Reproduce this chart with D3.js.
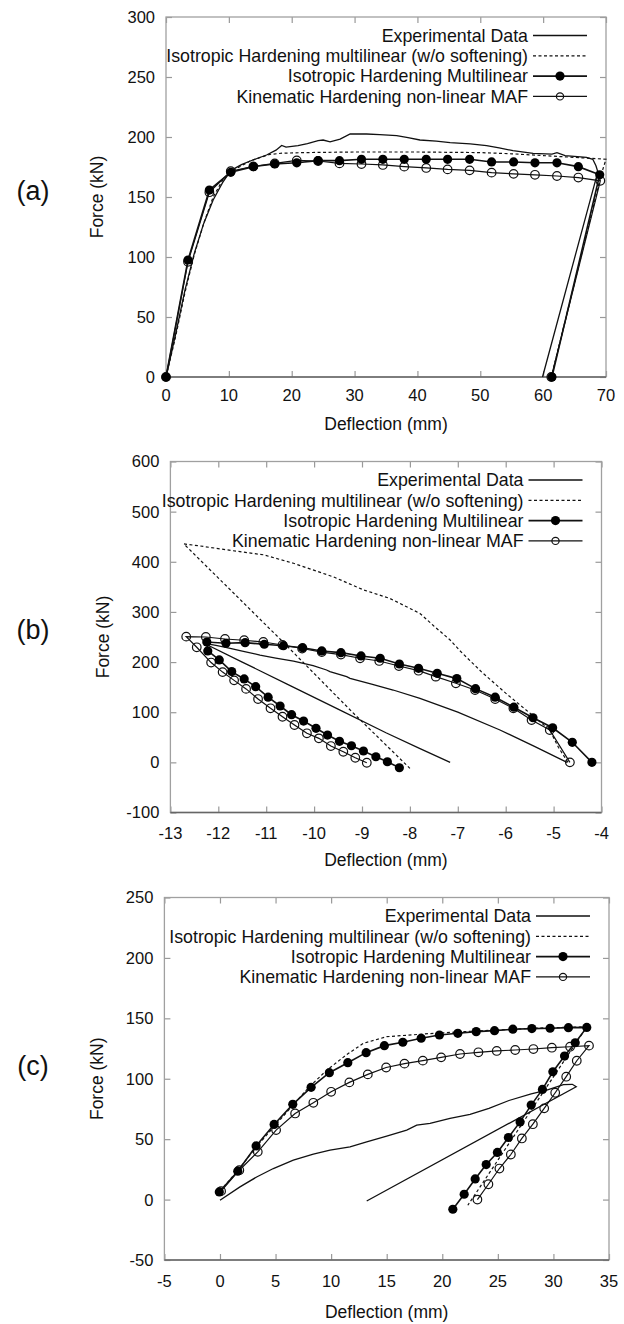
<!DOCTYPE html>
<html><head><meta charset="utf-8">
<script src="https://cdn.jsdelivr.net/npm/d3@7"></script>
<style>
html,body{margin:0;padding:0;background:#fff;}
svg{display:block;font-family:"Liberation Sans",Arial,sans-serif;}
</style></head>
<body><svg id="chart" width="624" height="1324"></svg>
<script>
// ---------- DATA ----------
const seriesNames = ["Experimental Data","Isotropic Hardening multilinear (w/o softening)","Isotropic Hardening Multilinear","Kinematic Hardening non-linear MAF"];

// Panel (a)
const aXTicks = [0,10,20,30,40,50,60,70];
const aYTicks = [0,50,100,150,200,250,300];
const aExp = [[0,0],[1.5,35],[3,72],[4.5,103],[6,128],[7.5,147.5],[9,162],[10.3,172],[12,177],[13.4,180],[16,185],[17.5,189],[18.4,193],[19.1,191.5],[21,192.8],[22.5,194.5],[24.2,197],[25,197.5],[26.1,196],[27.7,198.3],[29.3,202.5],[31.9,202.5],[34,202],[36.7,201.1],[38.5,199.5],[40.4,197.5],[43,196.5],[45.2,195.3],[48.4,194.2],[51,192.8],[53,191],[55.2,188.6],[58.4,186.4],[61.4,185.8],[62.2,186.9],[63.5,184.4],[66.9,183.1],[67.9,181.4],[68.4,176],[68.7,171],[59.9,0]];
const aDash = [[0,0],[1.5,33],[3,70],[4.5,102],[6,128],[7.5,150],[9,164],[10.3,171],[12,176],[13.4,180],[15,183],[16.5,185.5],[18.5,186.5],[22,187],[30,187.5],[40,187.5],[50,187],[55,186],[60,184.5],[65,183],[70,181.5],[69.2,168],[61.3,0]];
const aIso = [[0,0],[3.5,97.5],[6.9,155.8],[10.3,170.6],[13.9,175.3],[17.3,177.5],[20.8,178.5],[24.2,180.3],[27.6,180.3],[31.1,181.4],[34.5,181.4],[37.9,181.4],[41.4,181.4],[44.8,181.4],[48.3,181.4],[51.8,179.2],[55.3,179.2],[58.7,178.5],[62.2,178.5],[65.6,175.3],[69.0,168.5],[61.4,0]];
const aKin = [[0,0],[3.5,96],[6.9,154],[10.3,171.5],[13.9,175.5],[17.3,178],[20.8,180.5],[24.2,180],[27.6,178],[31.1,177.5],[34.5,176.7],[37.9,175.3],[41.4,174.2],[44.8,173],[48.3,172.2],[51.8,170.3],[55.3,169.3],[58.7,168.5],[62.2,167.5],[65.6,166.2],[69.1,163.5],[61.3,0]];

// Panel (b)
const bXTicks = [-13,-12,-11,-10,-9,-8,-7,-6,-5,-4];
const bYTicks = [-100,0,100,200,300,400,500,600];
const bExp = [[-4.72,0],[-5.4,32],[-6.12,64.5],[-7.0,100],[-7.79,127.7],[-8.35,144.3],[-8.8,156],[-9.25,167.7],[-9.32,170.9],[-9.67,180.8],[-9.74,184.2],[-10.02,193],[-10.43,202],[-10.8,208],[-11.13,214],[-11.5,222],[-11.82,229],[-12.05,233.5],[-12.31,238],[-11.5,200],[-10.5,153],[-9.5,106],[-8.5,59],[-7.8,28],[-7.16,0]];
const bDash = [[-4.7,0],[-4.9,30],[-5.08,64.5],[-5.53,101],[-6.0,138],[-6.5,180],[-6.95,222],[-7.16,244],[-7.5,272],[-7.79,297],[-8.42,327],[-8.97,344],[-9.6,370],[-10.43,397],[-11.06,414],[-11.69,422],[-12.38,431.5],[-12.72,435.7],[-10.7,245],[-9.2,100],[-8.0,-12]];
const bIso = [[-4.2,0],[-4.61,40],[-5.02,69],[-5.43,89],[-5.83,110],[-6.22,130],[-6.63,147],[-7.02,167],[-7.43,177.6],[-7.82,187.6],[-8.22,196.2],[-8.62,207.6],[-9.02,212.2],[-9.44,218.8],[-9.84,222.2],[-10.24,228.7],[-10.64,232.7],[-11.04,235.5],[-11.44,238.7],[-11.84,237.5],[-12.24,240],[-12.22,222.2],[-11.98,204.2],[-11.72,181],[-11.46,166.3],[-11.22,150.9],[-10.96,130],[-10.71,112.4],[-10.47,95],[-10.22,82.4],[-9.96,67.9],[-9.72,54.5],[-9.47,42],[-9.22,33.1],[-8.97,22.6],[-8.71,11.2],[-8.47,1.2],[-8.22,-10.8]];
const bKin = [[-4.66,0],[-5.08,64.5],[-5.46,84.4],[-5.84,107.8],[-6.22,126.3],[-6.64,144.3],[-7.04,157.7],[-7.46,170.9],[-7.82,182.8],[-8.23,192.2],[-8.64,202.2],[-9.04,207.6],[-9.44,215],[-9.84,220],[-10.25,227],[-10.66,234.1],[-11.06,240],[-11.46,243.5],[-11.86,246],[-12.26,250],[-12.67,250.7],[-12.45,229.5],[-12.15,199],[-11.91,180],[-11.67,163.5],[-11.42,146.5],[-11.17,126.3],[-10.91,107.8],[-10.66,91],[-10.41,74.5],[-10.15,57.9],[-9.9,47.9],[-9.65,32.5],[-9.39,21.2],[-9.14,9.2],[-8.9,-0.8]];

// Panel (c)
const cXTicks = [-5,0,5,10,15,20,25,30,35];
const cYTicks = [-50,0,50,100,150,200,250];
const cExp = [[0,-0.6],[1.8,10.5],[3.3,18.7],[4.8,25.7],[6.6,32.6],[8.4,37.6],[9.9,40.9],[11.7,43.6],[13.2,47.8],[15,52.5],[16.8,57.5],[17.7,61.6],[18.9,63],[20.7,67.2],[22.5,70.5],[24.2,75.5],[26,82],[28,87.5],[29.4,90.6],[30.9,95.2],[31.7,95.4],[32.05,93.4],[13.2,-1.2]];
const cDash = [[0,7],[1.6,24],[3.3,44],[5.4,66],[8.0,93],[9.6,107],[11.4,120],[12.9,129.3],[15,134.8],[19.2,137.6],[23.7,139.8],[28.2,141.8],[33,143],[22.3,-4.7]];
const cIso = [[-0.06,6.3],[1.6,23.5],[3.25,44.4],[4.87,62.2],[6.55,78.8],[8.2,92.9],[9.84,105],[11.5,113.3],[13.15,121.6],[14.79,127.4],[16.45,130.2],[18.1,133.5],[19.74,136.2],[21.4,137.6],[23.05,139],[24.7,139.8],[26.35,141],[28.06,141.5],[29.7,141.8],[31.35,142.3],[33.0,142.5],[31.96,129.8],[31.0,118.8],[29.95,105.8],[29.01,91.2],[28.0,78.2],[27.0,64.3],[25.95,51.4],[24.96,39],[23.95,29],[22.96,17.1],[21.97,4.4],[20.95,-8.0]];
const cKin = [[0.1,7],[1.74,24.3],[3.4,39.5],[5.05,57.5],[6.76,71.3],[8.4,80.1],[10.0,89.2],[11.64,97],[13.3,103.6],[14.95,109.3],[16.6,112.5],[18.25,115],[19.9,117.7],[21.6,120.5],[23.25,121.9],[24.9,123],[26.56,123.8],[28.2,124.6],[29.86,125.7],[31.5,126.5],[33.2,127.4],[32.1,114.9],[31.15,101.7],[30.16,88.4],[29.17,75.5],[28.15,62.4],[27.16,50.6],[26.17,37.3],[25.14,25.7],[24.15,12.7],[23.16,0]];

// ---------- LAYOUT ----------
const panels = [
  {label:"(a)", left:166, right:606, top:17, bottom:377, xTicks:aXTicks, yTicks:aYTicks, exp:aExp, dash:aDash, iso:aIso, kin:aKin, yTitleX:97, labelY:191, tickDy:24, titleDy:53},
  {label:"(b)", left:170.4, right:601.5, top:461.5, bottom:812.5, xTicks:bXTicks, yTicks:bYTicks, exp:bExp, dash:bDash, iso:bIso, kin:bKin, yTitleX:103, labelY:630, tickDy:26, titleDy:53},
  {label:"(c)", left:164.4, right:609, top:897.5, bottom:1260, xTicks:cXTicks, yTicks:cYTicks, exp:cExp, dash:cDash, iso:cIso, kin:cKin, yTitleX:97, labelY:1066, tickDy:27, titleDy:58}
];

const svg = d3.select("#chart");
const fmt = v => String(v).replace("\u2212","-");

panels.forEach(p => {
  const x = d3.scaleLinear().domain(d3.extent(p.xTicks)).range([p.left, p.right]);
  const y = d3.scaleLinear().domain(d3.extent(p.yTicks)).range([p.bottom, p.top]);
  const g = svg.append("g");
  const tickCol = "#999";

  const axes = [
    [d3.axisBottom(x).tickValues(p.xTicks).tickSize(-6).tickFormat(""), `translate(0,${p.bottom})`],
    [d3.axisTop(x).tickValues(p.xTicks).tickSize(-6).tickFormat(""), `translate(0,${p.top})`],
    [d3.axisLeft(y).tickValues(p.yTicks).tickSize(-6).tickFormat(""), `translate(${p.left},0)`],
    [d3.axisRight(y).tickValues(p.yTicks).tickSize(-6).tickFormat(""), `translate(${p.right},0)`]
  ];
  axes.forEach(([ax, tr]) => {
    const a = g.append("g").attr("transform", tr).call(ax);
    a.select(".domain").remove();
    a.selectAll("line").attr("stroke", tickCol).attr("stroke-width", 1.2);
  });
  g.append("rect").attr("x", p.left).attr("y", p.top).attr("width", p.right - p.left).attr("height", p.bottom - p.top)
    .attr("fill", "none").attr("stroke", "#a0a0a0").attr("stroke-width", 1.3);
  g.append("line").attr("x1", p.left).attr("x2", p.right).attr("y1", p.bottom).attr("y2", p.bottom)
    .attr("stroke", "#666").attr("stroke-width", 1.3);

  g.selectAll(".xl").data(p.xTicks).enter().append("text")
    .attr("x", d => x(d)).attr("y", p.bottom + p.tickDy).attr("text-anchor", "middle")
    .attr("font-size", 16.5).attr("fill", "#111").text(d => fmt(d));
  g.selectAll(".yl").data(p.yTicks).enter().append("text")
    .attr("x", p.left - 11).attr("y", d => y(d)).attr("dy", "0.36em").attr("text-anchor", "end")
    .attr("font-size", 16.5).attr("fill", "#111").text(d => fmt(d));

  g.append("text").attr("x", (p.left + p.right) / 2).attr("y", p.bottom + p.titleDy).attr("text-anchor", "middle")
    .attr("font-size", 17.5).attr("fill", "#111").text("Deflection (mm)");
  g.append("text").attr("transform", `translate(${p.yTitleX},${(p.top + p.bottom) / 2}) rotate(-90)`)
    .attr("text-anchor", "middle").attr("dy", "0.35em").attr("font-size", 17.5).attr("fill", "#111").text("Force (kN)");
  svg.append("text").attr("x", 33).attr("y", p.labelY).attr("dy", "0.35em").attr("text-anchor", "middle")
    .attr("font-size", 27).attr("fill", "#111").text(p.label);

  const line = d3.line().x(d => x(d[0])).y(d => y(d[1]));
  const clipId = "clip" + p.label.replace(/\W/g, "");
  svg.append("clipPath").attr("id", clipId).append("rect")
    .attr("x", p.left - 6).attr("y", p.top).attr("width", p.right - p.left + 12).attr("height", p.bottom - p.top + 8);
  const pg = g.append("g").attr("clip-path", `url(#${clipId})`);

  pg.append("path").datum(p.kin).attr("d", line).attr("fill", "none").attr("stroke", "#111").attr("stroke-width", 1.2);
  pg.selectAll(".ko").data(p.kin).enter().append("circle")
    .attr("cx", d => x(d[0])).attr("cy", d => y(d[1])).attr("r", 4.3)
    .attr("fill", "none").attr("stroke", "#111").attr("stroke-width", 1.2);
  pg.append("path").datum(p.dash).attr("d", line).attr("fill", "none").attr("stroke", "#111")
    .attr("stroke-width", 1.2).attr("stroke-dasharray", "3,2.5");
  pg.append("path").datum(p.exp).attr("d", line).attr("fill", "none").attr("stroke", "#111").attr("stroke-width", 1.3);
  pg.append("path").datum(p.iso).attr("d", line).attr("fill", "none").attr("stroke", "#111").attr("stroke-width", 1.6);
  pg.selectAll(".fo").data(p.iso).enter().append("circle")
    .attr("cx", d => x(d[0])).attr("cy", d => y(d[1])).attr("r", 4.6).attr("fill", "#000");

  const lx1 = p.right - 73, lx2 = p.right - 19, tx = lx1 - 5;
  seriesNames.forEach((name, i) => {
    const ly = p.top + 18.5 + i * 20.3;
    g.append("text").attr("x", tx).attr("y", ly).attr("dy", "0.35em").attr("text-anchor", "end")
      .attr("font-size", 17.8).attr("fill", "#111").text(name);
    const ln = g.append("line").attr("x1", lx1).attr("x2", lx2).attr("y1", ly).attr("y2", ly)
      .attr("stroke", "#111").attr("stroke-width", i === 2 ? 1.6 : 1.3);
    if (i === 1) ln.attr("stroke-dasharray", "3,2.5").attr("stroke-width", 1.2);
    if (i === 2) g.append("circle").attr("cx", (lx1 + lx2) / 2).attr("cy", ly).attr("r", 4.6).attr("fill", "#000");
    if (i === 3) g.append("circle").attr("cx", (lx1 + lx2) / 2).attr("cy", ly).attr("r", 3.6)
      .attr("fill", "none").attr("stroke", "#111").attr("stroke-width", 1.2);
  });
});
</script></body></html>
